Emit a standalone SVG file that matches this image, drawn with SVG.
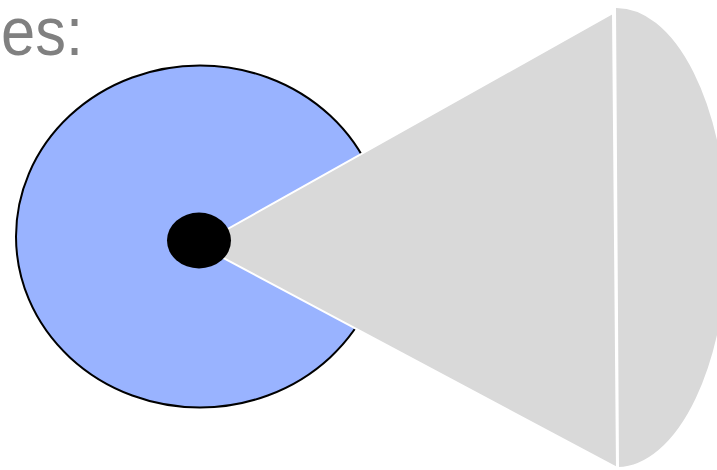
<svg xmlns="http://www.w3.org/2000/svg" width="717" height="470" viewBox="0 0 717 470">
<style>
.cone{fill:#d9d9d9;stroke:#ffffff;stroke-width:2;stroke-linejoin:round}
.lbl{font-family:"Liberation Sans",Arial,sans-serif;fill:#808080}
</style>
<text class="lbl" x="1" y="55" font-size="69" textLength="82" lengthAdjust="spacingAndGlyphs">es:</text>
<g id="disk">
<ellipse cx="200" cy="236.5" rx="184" ry="171" fill="#99b3ff" stroke="#000000" stroke-width="2"/>
</g>
<g id="cone">
<polygon class="cone" points="199,245 613,13 617,468"/>
</g>
<g id="cap">
<path class="cone" d="M615,7 A112,230.5 0 0 1 618,468 Z"/>
</g>
<g id="center">
<ellipse cx="199" cy="240.5" rx="32" ry="28" fill="#000000"/>
</g>
</svg>
